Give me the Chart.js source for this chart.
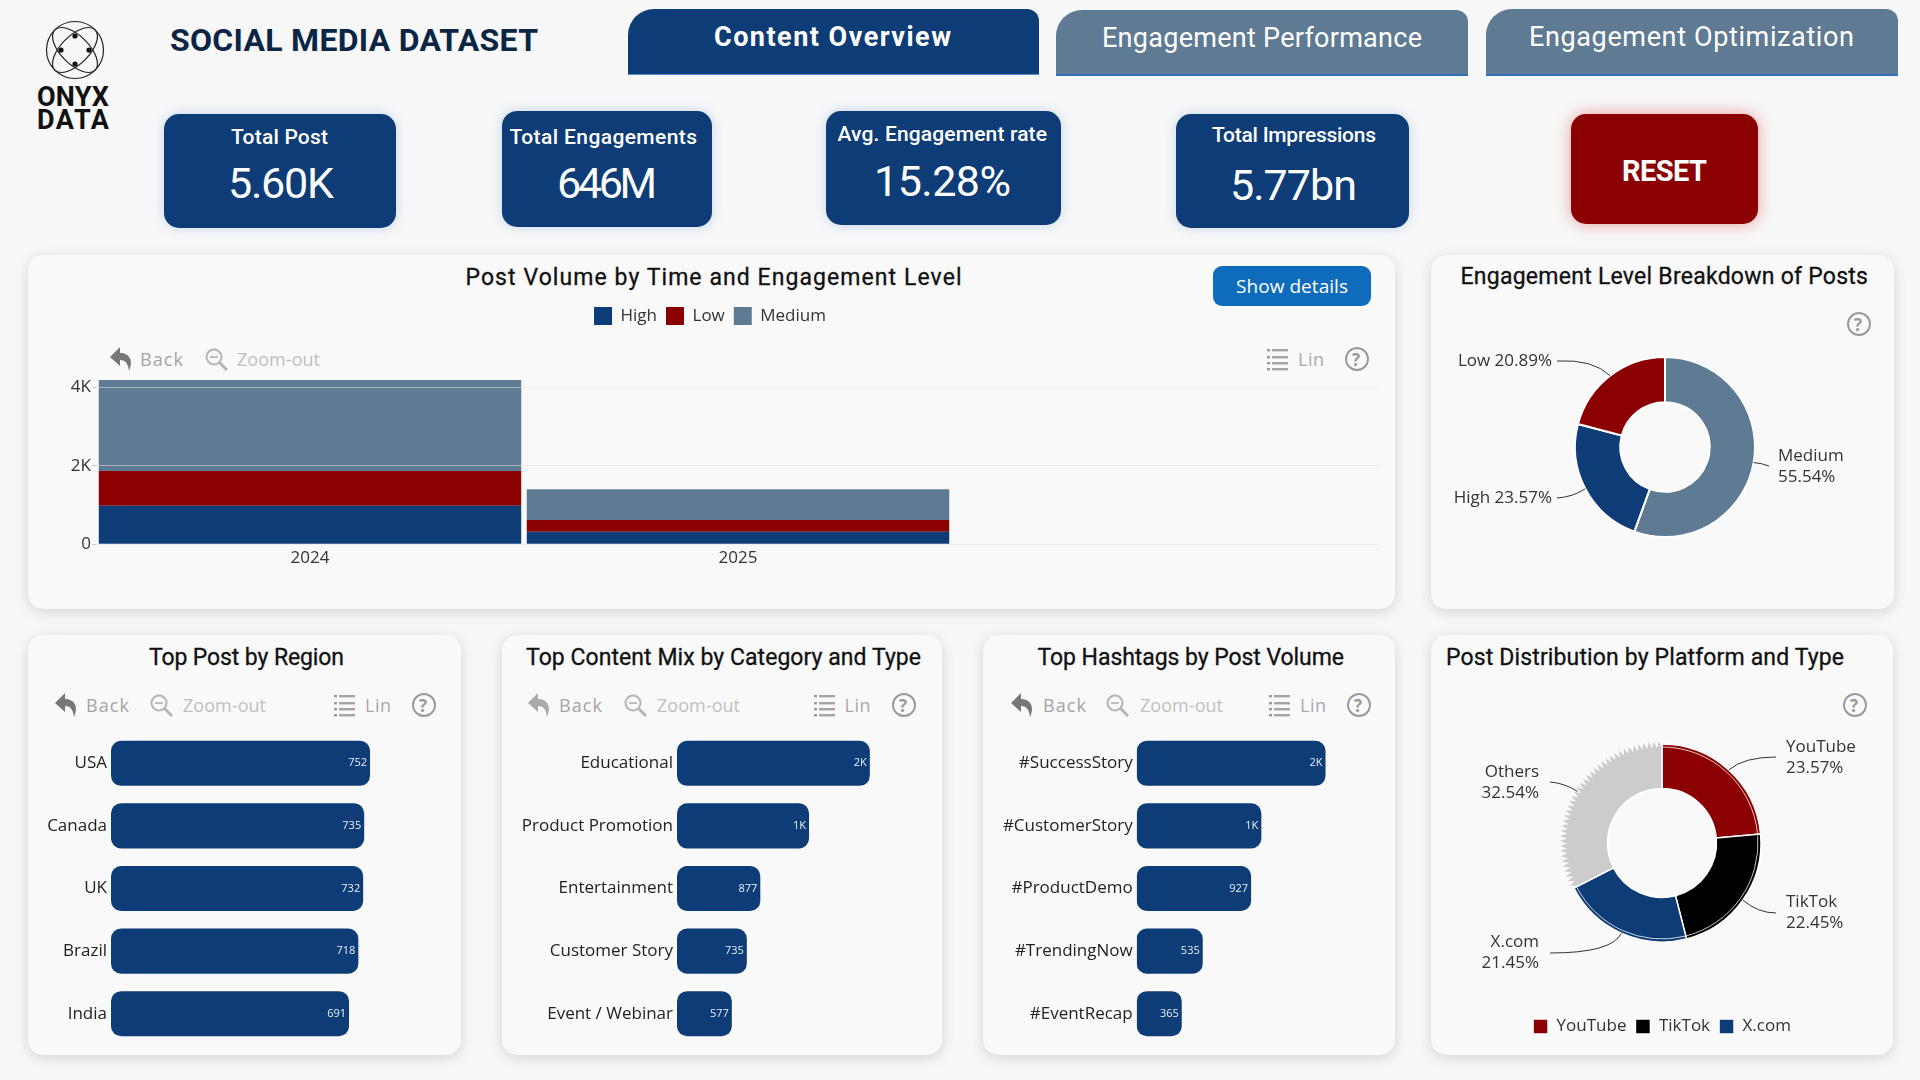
<!DOCTYPE html>
<html><head><meta charset="utf-8"><title>Social Media Dataset</title>
<script src="https://cdn.jsdelivr.net/npm/chart.js@4"></script>
<style>
html,body{margin:0;padding:0;width:1920px;height:1080px;overflow:hidden;background:#f7f7f8}
#stage{position:relative;width:1920px;height:1080px;overflow:hidden}
.box{position:absolute;box-sizing:border-box}
.panel{background:#f9f9f9;border-radius:15px;box-shadow:0 3px 14px rgba(0,0,0,.14)}
.kpi{background:#0e3c77;border-radius:15px;box-shadow:0 0 12px rgba(90,140,210,.3)}
.t{position:absolute;white-space:nowrap;line-height:1;transform:translateY(-50%)}
canvas{position:absolute}
svg{position:absolute;overflow:visible}
</style></head><body><div id="stage"></div>
<script>
// ---------- data ----------
const years = ['2024','2025',''];
const levelNames = ['High','Low','Medium'];
const highPosts = [984,321,null];
const lowPosts = [884,298,null];
const mediumPosts = [2318,782,null];
const yTicks = [0,2000,4000];

const breakdownLabels = ['Medium','High','Low'];
const breakdownValues = [55.54,23.57,20.89];

const platformLabels = ['YouTube','TikTok','X.com','Others'];
const platformValues = [23.57,22.45,21.45,32.54];

const regionLabels = ['USA','Canada','UK','Brazil','India'];
const regionValues = [752,735,732,718,691];
const contentLabels = ['Educational','Product Promotion','Entertainment','Customer Story','Event / Webinar'];
const contentValues = [2030,1390,877,735,577];
const hashtagLabels = ['#SuccessStory','#CustomerStory','#ProductDemo','#TrendingNow','#EventRecap'];
const hashtagValues = [1530,1010,927,535,365];

const kpiLabels = ['Total Post','Total Engagements','Avg. Engagement rate','Total Impressions'];
const kpiValues = ['5.60K','646M','15.28%','5.77bn'];
const tabLabels = ['Content Overview','Engagement Performance','Engagement Optimization'];

// ---------- styles ----------
const NAVY='#0e3c77',RED='#8b0000',SLATE='#5f7a93',GREY='#cccccc',BLACK='#000000',PANEL='#f9f9f9';
const TITLE='Roboto, sans-serif',BODY='"Open Sans", sans-serif';
Chart.defaults.font.family=BODY;Chart.defaults.color='#333';Chart.defaults.animation=false;
const stage=document.getElementById('stage');

function box(x,y,w,h,cls,style){const d=document.createElement('div');d.className='box '+(cls||'');
 Object.assign(d.style,{left:x+'px',top:y+'px',width:w+'px',height:h+'px'},style||{});stage.appendChild(d);return d;}
function text(s,x,y,o){o=o||{};const d=document.createElement('div');d.className='t';d.textContent=s;
 d.style.left=x+'px';d.style.top=y+'px';d.style.font=(o.weight||400)+' '+(o.size||17)+'px '+(o.font||BODY);
 d.style.color=o.color||'#222';if(o.stroke)d.style.webkitTextStroke=o.stroke+'px '+(o.color||'#222');stage.appendChild(d);
 if(o.w){const r=d.getBoundingClientRect().width;d.style.letterSpacing=((o.w-r)/Math.max(1,s.length-1))+'px';}
 return d;}
function svg(inner,x,y,w,h){const n=document.createElementNS('http://www.w3.org/2000/svg','svg');
 n.setAttribute('width',w);n.setAttribute('height',h);n.setAttribute('viewBox','0 0 '+w+' '+h);
 n.style.left=x+'px';n.style.top=y+'px';n.innerHTML=inner;stage.appendChild(n);return n;}
function help(cx,cy){svg('<circle cx="12" cy="12" r="11" fill="none" stroke="#999" stroke-width="1.9"/>',cx-12,cy-12,24,24);
 text('?',cx-5,cy,{size:17,weight:700,color:'#999'});}
function toolbar(y,backIcon,backText,zoomIcon,zoomText,listIcon,linText,helpX,backCol){
 svg('<path d="M10 0 L0 10 L10 19 V13 C15 13 18 16 19 24 C24 13 19 6 10 6 Z" fill="'+backCol+'"/>',backIcon,y-12,24,24);
 text('Back',backText,y,{size:18,color:'#a4a4a4',w:43});
 svg('<circle cx="9" cy="9" r="7.5" fill="none" stroke="#b5b5b5" stroke-width="2"/><path d="M5 9h8" stroke="#b5b5b5" stroke-width="1.7"/><path d="M14.5 14.5L22 22" stroke="#b5b5b5" stroke-width="3"/>',zoomIcon,y-11,24,24);
 text('Zoom-out',zoomText,y,{size:18,color:'#c0c0c0',w:83});
 svg([2,9,15,21].map(v=>'<rect x="0" y="'+v+'" width="3" height="2.4" fill="#999"/><rect x="5" y="'+v+'" width="16" height="2.4" fill="#a5a5a5"/>').join(''),listIcon,y-12,22,24);
 text('Lin',linText,y,{size:18,color:'#aaaaaa',w:26});
 help(helpX,y);}

// ---------- page furniture ----------
svg('<g fill="none" stroke="#222" stroke-width="1.2"><ellipse cx="29" cy="29" rx="28.5" ry="28.5"/><ellipse cx="29" cy="29" rx="14" ry="28.5" transform="rotate(45 29 29)"/><ellipse cx="29" cy="29" rx="14" ry="28.5" transform="rotate(-45 29 29)"/></g><g fill="#111"><circle cx="29" cy="15" r="2.6"/><circle cx="29" cy="43" r="2.6"/><circle cx="15" cy="29" r="2.6"/><circle cx="43" cy="29" r="2.6"/></g>',46,21,58,58);
text('ONYX',37,97,{size:27,weight:700,font:TITLE,color:'#111',w:72});
text('DATA',37,120,{size:27,weight:700,font:TITLE,color:'#111',w:72});
text('SOCIAL MEDIA DATASET',170,40,{size:32,weight:700,font:TITLE,color:'#0b2545',w:368});

box(628,9,411,66,'',{background:NAVY,borderRadius:'26px 12px 0 0',borderBottom:'1px solid #5b8fd0'});
box(1056,10,412,66,'',{background:SLATE,borderRadius:'26px 12px 0 0',borderBottom:'2px solid #2f6fc0'});
box(1486,9,412,67,'',{background:SLATE,borderRadius:'26px 12px 0 0',borderBottom:'2px solid #2f6fc0'});
text(tabLabels[0],714,37,{size:27,weight:700,font:TITLE,color:'#fff',w:237});
text(tabLabels[1],1102,38,{size:27,font:TITLE,color:'#fff',w:320});
text(tabLabels[2],1529,37,{size:27,font:TITLE,color:'#fff',w:325});

const cards=[[163.5,114,232,114],[501.5,111,210,116],[825.5,111,235,114],[1175.5,114,233,114]];
const kpiText=[[231,137,97,228,183,106],[509.5,137,187.5,557,183,100],[837.5,134,209.5,874,181,137],[1212,135,164,1230,185,127]];
cards.forEach((c,i)=>{box(c[0],c[1],c[2],c[3],'kpi');const p=kpiText[i];
 text(kpiLabels[i],p[0],p[1],{size:21,weight:500,font:TITLE,color:'#fff',w:p[2]});
 text(kpiValues[i],p[3],p[4],{size:43,font:TITLE,color:'#fff',w:p[5]});});
box(1571,114,187,110,'',{background:RED,borderRadius:'15px',boxShadow:'0 0 16px rgba(220,50,50,.45)'});
text('RESET',1622,171,{size:29,weight:700,font:TITLE,color:'#fff',w:85});

// ---------- panels ----------
box(28,255,1367,354,'panel');box(1431,255,463,354,'panel');
box(28,635,433,420,'panel');box(502,635,440,420,'panel');box(983,635,412,420,'panel');box(1431,635,462,420,'panel');

const TS={size:23,weight:400,font:TITLE,color:'#111',stroke:.3};
text('Post Volume by Time and Engagement Level',465.5,277,{...TS,w:496});
text('Engagement Level Breakdown of Posts',1460.5,276,{...TS,w:407.5});
text('Top Post by Region',149,656.5,{...TS,w:195});
text('Top Content Mix by Category and Type',526,657,{...TS,w:395});
text('Top Hashtags by Post Volume',1037.5,657,{...TS,w:306.5});
text('Post Distribution by Platform and Type',1446,656.5,{...TS,w:398});

box(1213,266,158,40,'',{background:'#0f6cbd',borderRadius:'9px'});
text('Show details',1236,286,{size:19,font:BODY,color:'#fff',w:112});

toolbar(359,110,140,205,237,1267,1298,1357,'#777');
toolbar(705,55,86,150,183,334,365,424,'#777');
toolbar(705,528,559,624,657,814,844.5,904,'#aaa');
toolbar(705,1011,1043,1106,1140,1269,1300,1359,'#777');
help(1859,324);help(1855,705);

// ---------- charts ----------
function canvas(x,y,w,h){const c=document.createElement('canvas');c.width=w;c.height=h;
 c.style.left=x+'px';c.style.top=y+'px';c.style.width=w+'px';c.style.height=h+'px';stage.appendChild(c);return c;}

function legendHeight(h){return{id:'legendHeight',beforeInit(chart){const f=chart.legend.fit;
 chart.legend.fit=function(){f.call(this);this.height=h;};}};}
function noPad(s){s.paddingTop=s.paddingBottom=s.paddingLeft=s.paddingRight=0;}

// stacked column chart
new Chart(canvas(40,298,1350,282),{type:'bar',
 data:{labels:years,datasets:[
  {label:levelNames[0],data:highPosts,backgroundColor:NAVY},
  {label:levelNames[1],data:lowPosts,backgroundColor:RED},
  {label:levelNames[2],data:mediumPosts,backgroundColor:SLATE}]},
 options:{responsive:false,layout:{padding:{right:10}},
  datasets:{bar:{barPercentage:1,categoryPercentage:.987}},
  plugins:{tooltip:{enabled:false},legend:{position:'top',labels:{boxWidth:18,boxHeight:18,padding:9,font:{size:17},color:'#333'}}},
  scales:{
   x:{stacked:true,grid:{display:false,drawTicks:false},border:{display:false},
      ticks:{font:{size:17},color:'#333',padding:4,maxRotation:0,autoSkip:false},
      afterFit(s){s.height=35.7;noPad(s);}},
   y:{stacked:true,min:0,max:4200,
      afterBuildTicks(s){s.ticks=yTicks.map(v=>({value:v}));},
      grid:{z:1,color:'rgba(225,228,232,.55)',tickColor:'#ccc',tickLength:4},border:{display:false},
      ticks:{font:{size:17},color:'#333',padding:1,callback:v=>v===0?'0':(v/1000)+'K'},
      afterFit(s){s.width=56;noPad(s);}}}},
 plugins:[legendHeight(81.5)]});

// horizontal bars with values inside the end of each bar
const insideValues={id:'insideValues',afterDatasetsDraw(chart){const c=chart.ctx,ds=chart.data.datasets[0];
 c.save();c.font='11px '+BODY;c.fillStyle='#e9eff7';c.textAlign='right';c.textBaseline='middle';
 chart.getDatasetMeta(0).data.forEach((b,i)=>{const v=ds.data[i];
  c.fillText(v>=1000?Math.round(v/1000)+'K':String(v),b.x-3,b.y);});c.restore();}};
function hbar(x,w,axisW,xMax,labels,values){
 new Chart(canvas(x,732,w,313),{type:'bar',
  data:{labels,datasets:[{data:values,backgroundColor:NAVY,borderRadius:10,borderSkipped:false,barPercentage:.72,categoryPercentage:1}]},
  options:{indexAxis:'y',responsive:false,plugins:{legend:{display:false},tooltip:{enabled:false}},
   scales:{x:{display:false,min:0,max:xMax},
    y:{grid:{display:false,drawTicks:false},border:{display:false},
       ticks:{font:{size:17},color:'#222',padding:4,autoSkip:false},afterFit(s){s.width=axisW;noPad(s);}}}},
  plugins:[insideValues]});}
hbar(30,400,81,926,regionLabels,regionValues);
hbar(505,430,172,2716,contentLabels,contentValues);
hbar(986,400,150.7,2020,hashtagLabels,hashtagValues);

// doughnut call-outs: anchors are measured relative to the doughnut centre
function callouts(layout){return{id:'callouts',afterDatasetsDraw(chart){
 const c=chart.ctx,ds=chart.data.datasets[0];c.save();
 chart.getDatasetMeta(0).data.forEach((a,i)=>{const L=layout[i],m=(a.startAngle+a.endAngle)/2;
  const sx=a.x+Math.cos(m)*a.outerRadius,sy=a.y+Math.sin(m)*a.outerRadius,ex=a.x+L.end[0],ey=a.y+L.end[1];
  c.beginPath();c.moveTo(ex,ey);c.quadraticCurveTo(a.x+L.ctrl[0],a.y+L.ctrl[1],sx,sy);
  c.strokeStyle='#333';c.lineWidth=1;c.stroke();
  c.font='17px '+BODY;c.fillStyle='#333';c.textBaseline='middle';c.textAlign=L.align;
  const name=chart.data.labels[i],pct=ds.data[i].toFixed(2)+'%';
  if(L.two){c.fillText(name,a.x+L.text[0],a.y+L.text[1]);c.fillText(pct,a.x+L.text[0],a.y+L.text[1]+21);}
  else c.fillText(name+' '+pct,a.x+L.text[0],a.y+L.text[1]);});
 c.restore();}};}

new Chart(canvas(1434,320,462,254),{type:'doughnut',
 data:{labels:breakdownLabels,datasets:[{data:breakdownValues,backgroundColor:[SLATE,NAVY,RED],borderColor:'#ffffff',borderWidth:2}]},
 options:{responsive:false,radius:90,cutout:'49.7%',plugins:{legend:{display:false},tooltip:{enabled:false}}},
 plugins:[callouts([
  {two:true,align:'left',text:[113,9],end:[104,19],ctrl:[96,16]},
  {align:'right',text:[-113,51],end:[-108,51],ctrl:[-92,50]},
  {align:'right',text:[-113,-86],end:[-108,-86],ctrl:[-72,-88]}])]});

// "Others" has a serrated outer edge; coloured slices carry a thin inner ring
const platformEdges={id:'platformEdges',afterDatasetsDraw(chart){const c=chart.ctx;c.save();
 chart.getDatasetMeta(0).data.forEach((a,i)=>{
  if(i<3){c.beginPath();c.arc(a.x,a.y,a.outerRadius-3,a.startAngle+.01,a.endAngle-.01);
   c.strokeStyle='rgba(255,255,255,.85)';c.lineWidth=.9;c.stroke();return;}
  const valley=a.outerRadius-4,tip=a.outerRadius+3,n=40,s=a.startAngle+.012,e=a.endAngle-.004;
  c.beginPath();c.arc(a.x,a.y,a.outerRadius+2,s,e);c.arc(a.x,a.y,valley-1,e,s,true);c.closePath();c.fillStyle=PANEL;c.fill();
  c.beginPath();c.moveTo(a.x+Math.cos(s)*(valley-2),a.y+Math.sin(s)*(valley-2));
  for(let k=0;k<=2*n;k++){const ang=s+(e-s)*k/(2*n),r=k%2?tip:valley;c.lineTo(a.x+Math.cos(ang)*r,a.y+Math.sin(ang)*r);}
  c.arc(a.x,a.y,valley-2,e,s,true);c.closePath();c.fillStyle=a.options.backgroundColor;c.fill();});
 c.restore();}};
new Chart(canvas(1431,677,462,368),{type:'doughnut',
 data:{labels:platformLabels,datasets:[{data:platformValues,backgroundColor:[RED,BLACK,NAVY,GREY],borderColor:'#ffffff',borderWidth:1.5}]},
 options:{responsive:false,radius:99,cutout:'55%',plugins:{tooltip:{enabled:false},
  legend:{position:'bottom',labels:{boxWidth:15,boxHeight:15,padding:9,font:{size:17},color:'#333',
   filter:item=>item.text!=='Others'}}}},
 plugins:[legendHeight(36),platformEdges,callouts([
  {two:true,align:'left',text:[124,-96],end:[114,-86],ctrl:[82,-86]},
  {two:true,align:'left',text:[124,59],end:[114,70],ctrl:[96,70]},
  {two:true,align:'right',text:[-123,99],end:[-112,110],ctrl:[-50,110]},
  {two:true,align:'right',text:[-123,-71],end:[-112,-61],ctrl:[-98,-60]}])]});
</script></body></html>
